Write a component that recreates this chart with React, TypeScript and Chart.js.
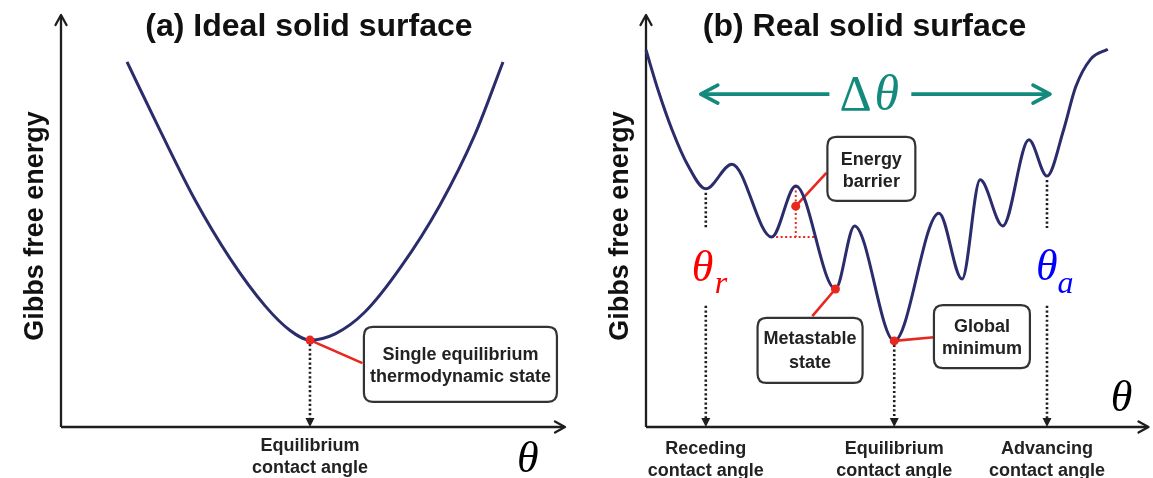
import React, { useEffect, useRef } from "react";
import { Chart, registerables } from "chart.js";
Chart.register(...registerables);

// ---------- Panel (a): ideal solid surface ----------
const idealTheta = [13.1, 19.6, 26.6, 33.5, 40.5, 45.4, 49.4, 54.4, 60.3, 67.3, 75.2, 82.1, 87.7];
const idealEnergy = [88.6, 72.1, 55.1, 41.0, 29.4, 23.5, 21.1, 22.6, 27.9, 38.6, 53.9, 70.9, 88.6];
const idealStateTheta = [49.4];
const idealStateEnergy = [21.1];
const idealBoxText = ["Single equilibrium", "thermodynamic state"];
const idealAngleLabel = ["Equilibrium", "contact angle"];

// ---------- Panel (b): real solid surface ----------
const realTheta = [0, 2.4, 5.2, 8.3, 11.9, 17.1, 25.0, 29.8, 37.7, 41.5, 49.4, 58.3, 62.9, 66.5, 71.0, 76.2, 79.8, 83.1, 85.5, 88.5, 91.9];
const realEnergy = [91.5, 81.8, 72.1, 63.6, 57.8, 63.8, 46.1, 58.5, 33.5, 48.8, 20.9, 51.9, 35.9, 60.0, 48.8, 69.7, 60.9, 72.1, 82.5, 89.3, 91.7];
// energy-barrier point, metastable state, global minimum
const markedTheta = [29.8, 37.7, 49.4];
const markedEnergy = [53.6, 33.5, 20.9];
const markedText = [["Energy", "barrier"], ["Metastable", "state"], ["Global", "minimum"]];
// receding, equilibrium, advancing
const angleTheta = [11.9, 49.4, 79.8];
const angleEnergy = [57.8, 20.9, 60.9];
const angleLabels = [["Receding", "contact angle"], ["Equilibrium", "contact angle"], ["Advancing", "contact angle"]];

const titles = ["(a) Ideal solid surface", "(b) Real solid surface"];
const yAxisLabel = "Gibbs free energy";

const NAVY = "#2b2c6c";
const RED = "#e8271f";
const TEAL = "#138a7d";
const INK = "#1e1e1e";
const SANS = '"Liberation Sans", Arial, Helvetica, sans-serif';
const SERIF = '"Liberation Serif", "Times New Roman", serif';

function openArrow(ctx: any, tx: number, ty: number, dx: number, dy: number, len: number, half: number, color: string, lw: number) {
  const bx = tx - dx * len, by = ty - dy * len;
  const px = -dy, py = dx;
  ctx.save();
  ctx.strokeStyle = color;
  ctx.lineWidth = lw;
  ctx.lineCap = "round";
  ctx.lineJoin = "round";
  ctx.beginPath();
  ctx.moveTo(bx + px * half, by + py * half);
  ctx.lineTo(tx, ty);
  ctx.lineTo(bx - px * half, by - py * half);
  ctx.stroke();
  ctx.restore();
}

function line(ctx: any, x1: number, y1: number, x2: number, y2: number, color: string, lw: number, dash: number[] = []) {
  ctx.save();
  ctx.strokeStyle = color;
  ctx.lineWidth = lw;
  ctx.setLineDash(dash);
  ctx.beginPath();
  ctx.moveTo(x1, y1);
  ctx.lineTo(x2, y2);
  ctx.stroke();
  ctx.restore();
}

function dottedDown(ctx: any, x: number, y1: number, y2: number, arrow: boolean) {
  const end = arrow ? y2 - 7 : y2;
  ctx.save();
  ctx.strokeStyle = INK;
  ctx.lineWidth = 2.6;
  ctx.setLineDash([2.2, 2.4]);
  ctx.beginPath();
  ctx.moveTo(x, y1);
  ctx.lineTo(x, end);
  ctx.stroke();
  ctx.restore();
  if (arrow) {
    ctx.save();
    ctx.fillStyle = INK;
    ctx.beginPath();
    ctx.moveTo(x, y2);
    ctx.lineTo(x - 4.5, y2 - 9);
    ctx.lineTo(x + 4.5, y2 - 9);
    ctx.closePath();
    ctx.fill();
    ctx.restore();
  }
}

function roundBox(ctx: any, x1: number, y1: number, x2: number, y2: number) {
  const r = 9;
  ctx.save();
  ctx.fillStyle = "#ffffff";
  ctx.strokeStyle = "#333333";
  ctx.lineWidth = 2.2;
  ctx.beginPath();
  ctx.moveTo(x1 + r, y1);
  ctx.lineTo(x2 - r, y1);
  ctx.quadraticCurveTo(x2, y1, x2, y1 + r);
  ctx.lineTo(x2, y2 - r);
  ctx.quadraticCurveTo(x2, y2, x2 - r, y2);
  ctx.lineTo(x1 + r, y2);
  ctx.quadraticCurveTo(x1, y2, x1, y2 - r);
  ctx.lineTo(x1, y1 + r);
  ctx.quadraticCurveTo(x1, y1, x1 + r, y1);
  ctx.closePath();
  ctx.fill();
  ctx.stroke();
  ctx.restore();
}

function text(ctx: any, s: string, x: number, y: number, font: string, color: string, align: string = "center", base: string = "middle") {
  ctx.save();
  ctx.font = font;
  ctx.fillStyle = color;
  ctx.textAlign = align;
  ctx.textBaseline = base;
  ctx.fillText(s, x, y);
  ctx.restore();
}

function drawAxes(ctx: any, a: any) {
  line(ctx, a.left, a.bottom, a.left, a.top + 1, INK, 2.3);
  line(ctx, a.left, a.bottom, a.right - 1, a.bottom, INK, 2.3);
  openArrow(ctx, a.left, a.top, 0, -1, 10, 5.5, INK, 2.3);
  openArrow(ctx, a.right, a.bottom, 1, 0, 10, 5.5, INK, 2.3);
}

function yLabel(ctx: any, a: any, y: number) {
  ctx.save();
  ctx.translate(a.left - 18, y);
  ctx.rotate(-Math.PI / 2);
  ctx.font = `bold 27px ${SANS}`;
  ctx.fillStyle = "#111";
  ctx.textAlign = "center";
  ctx.textBaseline = "alphabetic";
  ctx.fillText(yAxisLabel, 0, 0);
  ctx.restore();
}

const panelA = {
  id: "panelA",
  beforeDatasetsDraw(chart: any) {
    const { ctx, chartArea: a } = chart;
    const X = (v: number) => chart.scales.x.getPixelForValue(v);
    const Y = (v: number) => chart.scales.y.getPixelForValue(v);
    drawAxes(ctx, a);
    dottedDown(ctx, X(idealStateTheta[0]), Y(idealStateEnergy[0]) + 4, a.bottom, true);
    line(ctx, X(idealStateTheta[0]), Y(idealStateEnergy[0]), X(59.8), Y(15.5), RED, 2.6);
    roundBox(ctx, X(60.1), Y(24.3), X(98.4), Y(6.1));
  },
  afterDatasetsDraw(chart: any) {
    const { ctx, chartArea: a } = chart;
    const X = (v: number) => chart.scales.x.getPixelForValue(v);
    const Y = (v: number) => chart.scales.y.getPixelForValue(v);
    text(ctx, titles[0], X(49.2), Y(94.9), `bold 32px ${SANS}`, "#111", "center", "alphabetic");
    yLabel(ctx, a, Y(48.8));
    const bf = `bold 18px ${SANS}`;
    text(ctx, idealBoxText[0], X(79.25), Y(17.5), bf, "#222");
    text(ctx, idealBoxText[1], X(79.25), Y(12.1), bf, "#222");
    text(ctx, idealAngleLabel[0], X(idealStateTheta[0]), a.bottom + 19, bf, "#222");
    text(ctx, idealAngleLabel[1], X(idealStateTheta[0]), a.bottom + 41, bf, "#222");
    text(ctx, "θ", X(90.5), a.bottom + 45, `italic 44px ${SERIF}`, "#000", "left", "alphabetic");
  },
};

const panelB = {
  id: "panelB",
  beforeDatasetsDraw(chart: any) {
    const { ctx, chartArea: a } = chart;
    const X = (v: number) => chart.scales.x.getPixelForValue(v);
    const Y = (v: number) => chart.scales.y.getPixelForValue(v);
    drawAxes(ctx, a);
    // Δθ arrows
    line(ctx, X(10.9) + 2, Y(80.8), X(36.5), Y(80.8), TEAL, 3.6);
    line(ctx, X(52.8), Y(80.8), X(80.4) - 2, Y(80.8), TEAL, 3.6);
    openArrow(ctx, X(10.9), Y(80.8), -1, 0, 17, 9, TEAL, 3.6);
    openArrow(ctx, X(80.4), Y(80.8), 1, 0, 17, 9, TEAL, 3.6);
    // receding / advancing dotted lines (broken around the θ labels)
    [0, 2].forEach((i) => {
      dottedDown(ctx, X(angleTheta[i]), Y(angleEnergy[i]) + 4, Y(48.3), false);
      dottedDown(ctx, X(angleTheta[i]), Y(29.4), a.bottom, true);
    });
    dottedDown(ctx, X(angleTheta[1]), Y(angleEnergy[1]) + 4, a.bottom, true);
    // energy barrier construction
    line(ctx, X(realTheta[6]), Y(realEnergy[6]), X(33.9), Y(realEnergy[6]), RED, 2, [2, 2.5]);
    line(ctx, X(markedTheta[0]), Y(realEnergy[7]), X(markedTheta[0]), Y(realEnergy[6]), RED, 2, [2, 2.5]);
    // leaders
    line(ctx, X(markedTheta[0]), Y(markedEnergy[0]), X(35.9), Y(61.7), RED, 2.6);
    line(ctx, X(markedTheta[1]), Y(markedEnergy[1]), X(33.1), Y(26.9), RED, 2.6);
    line(ctx, X(markedTheta[2]), Y(markedEnergy[2]), X(57.3), Y(21.8), RED, 2.6);
    // boxes
    roundBox(ctx, X(36.1), Y(70.4), X(53.6), Y(54.9));
    roundBox(ctx, X(22.2), Y(26.5), X(43.1), Y(10.7));
    roundBox(ctx, X(57.3), Y(29.6), X(76.4), Y(14.3));
  },
  afterDatasetsDraw(chart: any) {
    const { ctx, chartArea: a } = chart;
    const X = (v: number) => chart.scales.x.getPixelForValue(v);
    const Y = (v: number) => chart.scales.y.getPixelForValue(v);
    text(ctx, titles[1], X(43.5), Y(94.9), `bold 32px ${SANS}`, "#111", "center", "alphabetic");
    yLabel(ctx, a, Y(48.8));
    const bf = `bold 18px ${SANS}`;
    const boxCenters = [[44.85, 64.8, 59.5], [32.65, 21.4, 15.5], [66.85, 24.3, 18.9]];
    markedText.forEach((t, i) => {
      text(ctx, t[0], X(boxCenters[i][0]), Y(boxCenters[i][1]), bf, "#222");
      text(ctx, t[1], X(boxCenters[i][0]), Y(boxCenters[i][2]), bf, "#222");
    });
    angleLabels.forEach((t, i) => {
      text(ctx, t[0], X(angleTheta[i]), a.bottom + 22, bf, "#222");
      text(ctx, t[1], X(angleTheta[i]), a.bottom + 44, bf, "#222");
    });
    // Δθ
    ctx.save();
    ctx.font = `50px ${SERIF}`;
    const wd = ctx.measureText("Δ").width;
    ctx.restore();
    text(ctx, "Δ", X(38.5), Y(76.9), `50px ${SERIF}`, TEAL, "left", "alphabetic");
    text(ctx, "θ", X(38.5) + wd + 3, Y(76.9), `italic 50px ${SERIF}`, TEAL, "left", "alphabetic");
    // θr and θa
    text(ctx, "θ", X(9.1), Y(35.4), `italic 44px ${SERIF}`, "#ff0000", "left", "alphabetic");
    text(ctx, "r", X(13.7), Y(32.5), `italic 32px ${SERIF}`, "#ff0000", "left", "alphabetic");
    text(ctx, "θ", X(77.6), Y(35.7), `italic 44px ${SERIF}`, "#0000ff", "left", "alphabetic");
    text(ctx, "a", X(81.9), Y(32.5), `italic 32px ${SERIF}`, "#0000ff", "left", "alphabetic");
    text(ctx, "θ", X(92.5), Y(3.9), `italic 44px ${SERIF}`, "#000", "left", "alphabetic");
  },
};

function makeChart(canvas: HTMLCanvasElement, xs: number[], ys: number[], mx: number[], my: number[], pad: any, plugin: any) {
  return new Chart(canvas, {
    type: "line",
    data: {
      datasets: [
        {
          data: mx.map((x, i) => ({ x, y: my[i] })),
          showLine: false,
          pointRadius: 4.5,
          pointBackgroundColor: RED,
          pointBorderWidth: 0,
          order: 0,
        },
        {
          data: xs.map((x, i) => ({ x, y: ys[i] })),
          borderColor: NAVY,
          borderWidth: 3,
          pointRadius: 0,
          cubicInterpolationMode: "monotone",
          fill: false,
          clip: false,
          order: 1,
        },
      ],
    } as any,
    options: {
      animation: false,
      responsive: false,
      maintainAspectRatio: false,
      events: [],
      layout: { padding: pad },
      scales: {
        x: { type: "linear", min: 0, max: 100, display: false },
        y: { type: "linear", min: 0, max: 100, display: false },
      },
      plugins: { legend: { display: false }, tooltip: { enabled: false }, title: { display: false } },
    } as any,
    plugins: [plugin],
  });
}

export default function App() {
  const refA = useRef<HTMLCanvasElement>(null);
  const refB = useRef<HTMLCanvasElement>(null);
  useEffect(() => {
    const a = makeChart(refA.current!, idealTheta, idealEnergy, idealStateTheta, idealStateEnergy,
      { left: 61, right: 15, top: 15, bottom: 51 }, panelA);
    const b = makeChart(refB.current!, realTheta, realEnergy, markedTheta, markedEnergy,
      { left: 66, right: 3, top: 15, bottom: 51 }, panelB);
    return () => {
      a.destroy();
      b.destroy();
    };
  }, []);
  return (
    <div style={{ position: "absolute", left: 0, top: 0, width: 1153, height: 478, background: "#fff", overflow: "hidden" }}>
      <canvas ref={refA} width={580} height={478} style={{ position: "absolute", left: 0, top: 0, width: 580, height: 478 }} />
      <canvas ref={refB} width={573} height={478} style={{ position: "absolute", left: 580, top: 0, width: 573, height: 478 }} />
    </div>
  );
}
